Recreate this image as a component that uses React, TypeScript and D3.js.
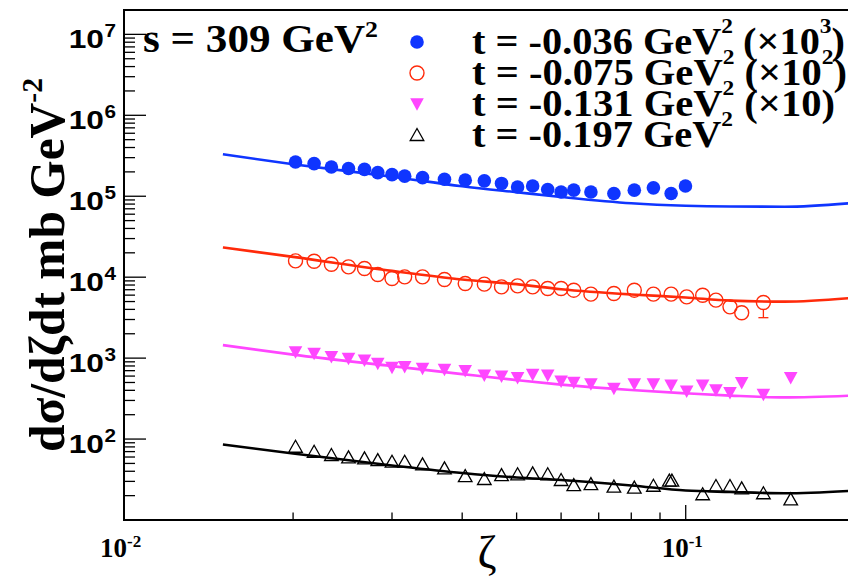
import React from "react";
import * as d3 from "d3";

const W = 848;
const H = 579;

// ---- data (raw values; plotted values = raw * factor) ----
const blueZeta = [0.0202, 0.0218, 0.0234, 0.0251, 0.0268, 0.0283, 0.03, 0.0316, 0.034, 0.0372, 0.0405, 0.0438, 0.047, 0.0502, 0.0534, 0.0568, 0.06, 0.0632, 0.0678, 0.0745, 0.081, 0.0876, 0.0942, 0.0999];
const blueVals = [265, 253, 230, 220, 215, 196, 185, 177, 170, 162, 158, 155, 144, 130, 134, 121, 113, 119, 113, 108, 119, 127, 108, 134];

const redZeta = [0.0202, 0.0218, 0.0234, 0.0251, 0.0268, 0.0283, 0.03, 0.0316, 0.034, 0.0372, 0.0405, 0.0438, 0.047, 0.0502, 0.0534, 0.0568, 0.06, 0.0632, 0.0678, 0.0745, 0.081, 0.0876, 0.0942, 0.1004, 0.1072, 0.1132, 0.1199, 0.1258, 0.1375];
const redVals = [158.9, 157.6, 144.7, 134.1, 128.1, 108, 96.4, 100.9, 100.9, 93.7, 83.6, 82, 75.9, 78.1, 75.9, 72.5, 72.5, 69.1, 61.7, 62.9, 69.1, 61.7, 61.7, 57.1, 59.9, 52, 43, 36.3, 48.7];
const redErrLow = [null, null, null, null, null, null, null, null, null, null, null, null, null, null, null, null, null, null, null, null, null, null, null, null, null, null, null, null, 31.6];

const magZeta = [0.0202, 0.0218, 0.0234, 0.0251, 0.0268, 0.0283, 0.03, 0.0316, 0.034, 0.0372, 0.0405, 0.0438, 0.047, 0.0502, 0.0534, 0.0568, 0.06, 0.0632, 0.0678, 0.0745, 0.081, 0.0876, 0.0942, 0.1004, 0.1072, 0.1132, 0.1199, 0.1258, 0.1375, 0.1538];
const magVals = [119.6, 114.3, 103.8, 99.2, 94.5, 86, 76.8, 78.1, 74.6, 72.5, 69.7, 61.7, 59.9, 57.1, 62.9, 61.7, 52, 50.1, 47.8, 42.3, 47.8, 47.8, 46.4, 39.1, 46.4, 40.3, 37.3, 49.6, 35.6, 57.1];

const blackZeta = [0.0202, 0.0218, 0.0234, 0.0251, 0.0268, 0.0283, 0.03, 0.0316, 0.034, 0.0372, 0.0405, 0.0438, 0.047, 0.0502, 0.0534, 0.0568, 0.06, 0.0632, 0.0678, 0.0745, 0.081, 0.0876, 0.0935, 0.0945, 0.1072, 0.1132, 0.1199, 0.1258, 0.1375, 0.1538];
const blackVals = [80.3, 69.7, 63.5, 59.4, 57.8, 55.0, 52.5, 52.5, 48.7, 43.5, 34.9, 32.1, 35.9, 36.7, 37.7, 36.7, 31.2, 27.0, 27.8, 25.8, 25.1, 26.5, 30.6, 30.6, 20.8, 26.3, 26.3, 24.6, 21.4, 18.0];

// model curves (raw values)
const curveZeta = [0.015, 0.02, 0.03, 0.04, 0.05, 0.06, 0.08, 0.1, 0.12, 0.15, 0.2];
const blueCurve = [330, 248.5, 174.1, 132.9, 112.1, 98.0, 81.9, 76.3, 74.6, 74.2, 83];
const redCurve = [232.6, 178.1, 119.6, 93.7, 82.0, 71.1, 61.2, 56.2, 51.3, 49.9, 55.9];
const magCurve = [144.7, 110.5, 79.7, 63.5, 53.5, 47.1, 40.3, 36.7, 34.4, 32.7, 34.6];
const blackCurve = [85.5, 66.2, 47.1, 38.0, 33.5, 31.2, 26.7, 23.1, 22.2, 21.4, 23.1];

const tLabels = ["-0.036", "-0.075", "-0.131", "-0.197"];
const factorExp = ["3", "2", "1", "0"];
const factors = [1000, 100, 10, 1];
const colors = ["#0f35ff", "#ff2a0a", "#ff46ff", "#000000"];
const markers = ["fcircle", "ocircle", "ftridown", "otriup"];

const yMajor = [1e2, 1e3, 1e4, 1e5, 1e6, 1e7];
const yExp = ["2", "3", "4", "5", "6", "7"];
const xMajor = [0.01, 0.1];
const xExp = ["-2", "-1"];

const SERIF = "'Liberation Serif', 'Times New Roman', serif";
const SANS = "'Liberation Sans', Arial, sans-serif";

const x = d3.scaleLog().domain([0.01, 0.2]).range([124, 854.8]);
const y = d3.scaleLog().domain([10, 2e7]).range([520, 10]);

function Marker({ kind, cx, cy, color }: { kind: string; cx: number; cy: number; color: string }) {
  if (kind === "fcircle") return <circle cx={cx} cy={cy} r={6.8} fill={color} />;
  if (kind === "ocircle") return <circle cx={cx} cy={cy} r={7} fill="none" stroke={color} strokeWidth={1.4} />;
  if (kind === "ftridown")
    return <path d={`M${cx - 6.8},${cy - 5.7}L${cx + 6.8},${cy - 5.7}L${cx},${cy + 6.8}Z`} fill={color} />;
  return (
    <path d={`M${cx - 6.8},${cy + 5.5}L${cx + 6.8},${cy + 5.5}L${cx},${cy - 6.5}Z`} fill="none" stroke={color} strokeWidth={1.3} />
  );
}

export default function App() {
  const seriesZeta = [blueZeta, redZeta, magZeta, blackZeta];
  const seriesVals = [blueVals, redVals, magVals, blackVals];
  const curves = [blueCurve, redCurve, magCurve, blackCurve];

  const line = d3
    .line<[number, number]>()
    .x((d) => x(d[0]))
    .y((d) => y(d[1]))
    .curve(d3.curveMonotoneX);

  const yMinor: number[] = [];
  for (let e = 1; e <= 7; e++) for (let k = 2; k <= 9; k++) {
    const v = k * Math.pow(10, e);
    if (v < 2e7) yMinor.push(v);
  }
  const xMinor: number[] = [];
  for (let k = 2; k <= 9; k++) xMinor.push(k * 0.01);
  xMinor.push(0.2);

  return (
    <svg width={W} height={H} style={{ position: "absolute", left: 0, top: 0, background: "#fff" }}>
      <rect x={0} y={0} width={W} height={H} fill="#fff" />
      {/* curves */}
      {curves.map((c, i) => (
        <path
          key={"c" + i}
          d={line(curveZeta.map((z, j) => [z, c[j] * factors[i]] as [number, number])) || ""}
          fill="none"
          stroke={colors[i]}
          strokeWidth={2.6}
        />
      ))}
      {/* red error bar */}
      {redErrLow.map((e, j) =>
        e == null ? null : (
          <g key={"e" + j} stroke={colors[1]} strokeWidth={1.3}>
            <line x1={x(redZeta[j])} x2={x(redZeta[j])} y1={y(redVals[j] * factors[1]) + 7} y2={y(e * factors[1])} />
            <line x1={x(redZeta[j]) - 5} x2={x(redZeta[j]) + 5} y1={y(e * factors[1])} y2={y(e * factors[1])} />
          </g>
        )
      )}
      {/* markers */}
      {seriesZeta.map((zs, i) =>
        zs.map((z, j) => (
          <Marker key={`m${i}-${j}`} kind={markers[i]} cx={x(z)} cy={y(seriesVals[i][j] * factors[i])} color={colors[i]} />
        ))
      )}
      {/* frame */}
      <g stroke="#000" strokeWidth={2} fill="none">
        <line x1={124} x2={W} y1={10} y2={10} />
        <line x1={124} x2={W} y1={520} y2={520} />
        <line x1={124} x2={124} y1={9} y2={521} />
      </g>
      {/* ticks */}
      <g stroke="#000" strokeWidth={1.3}>
        {yMajor.map((v) => (
          <line key={"ym" + v} x1={124} x2={146} y1={y(v)} y2={y(v)} />
        ))}
        {yMinor.map((v) => (
          <line key={"yn" + v} x1={124} x2={135} y1={y(v)} y2={y(v)} />
        ))}
        {xMajor.map((v) => (
          <line key={"xm" + v} x1={x(v)} x2={x(v)} y1={520} y2={505} />
        ))}
        {xMinor.map((v) => (
          <line key={"xn" + v} x1={x(v)} x2={x(v)} y1={520} y2={512.5} />
        ))}
      </g>
      {/* y tick labels */}
      {yMajor.map((v, i) => (
        <g key={"yl" + v} fontFamily={SANS} fontWeight="bold" fill="#000">
          <text transform={`translate(104,${y(v) + 13.5}) scale(1.22,1)`} textAnchor="end" fontSize={26}>10</text>
          <text transform={`translate(104.5,${y(v) + 3}) scale(1.15,1)`} fontSize={18}>{yExp[i]}</text>
        </g>
      ))}
      {/* x tick labels */}
      {xMajor.map((v, i) => (
        <g key={"xl" + v} fontFamily={SERIF} fontWeight="bold" fill="#000">
          <text x={x(v) - 24} y={557} fontSize={27}>10</text>
          <text x={x(v) + 3} y={547} fontSize={17}>{xExp[i]}</text>
        </g>
      ))}
      {/* axis titles */}
      <text x={487} y={568} textAnchor="middle" fontFamily={SERIF} fontSize={46}>ζ</text>
      <text
        transform="translate(64,452) rotate(-90)"
        fontFamily={SERIF}
        fontWeight="bold"
        fontSize={50}
        textLength={374}
        lengthAdjust="spacingAndGlyphs"
      >
        dσ/dζdt mb GeV<tspan dy={-22} fontSize={30}>-2</tspan>
      </text>
      {/* s label */}
      <text x={143} y={52} fontFamily={SERIF} fontWeight="bold" fontSize={40} textLength={235} lengthAdjust="spacingAndGlyphs">
        s = 309 GeV<tspan dy={-15} fontSize={24}>2</tspan>
      </text>
      {/* legend */}
      {tLabels.map((t, i) => {
        const by = 54 + i * 31;
        const widths = [373, 375, 363, 261];
        return (
          <g key={"lg" + i}>
            <Marker kind={markers[i]} cx={417} cy={by - 12} color={colors[i]} />
            <text
              x={472}
              y={by}
              fontFamily={SERIF}
              fontWeight="bold"
              fontSize={38}
              textLength={widths[i]}
              lengthAdjust="spacingAndGlyphs"
            >
              {`t = ${t} GeV`}
              <tspan dy={-21} fontSize={22}>2</tspan>
              {factorExp[i] === "0" ? null : factorExp[i] === "1" ? (
                <tspan dy={21}>{" (×10)"}</tspan>
              ) : (
                <>
                  <tspan dy={21}>{" (×10"}</tspan>
                  <tspan dy={-21} fontSize={22}>{factorExp[i]}</tspan>
                  <tspan dy={21}>)</tspan>
                </>
              )}
            </text>
          </g>
        );
      })}
    </svg>
  );
}
